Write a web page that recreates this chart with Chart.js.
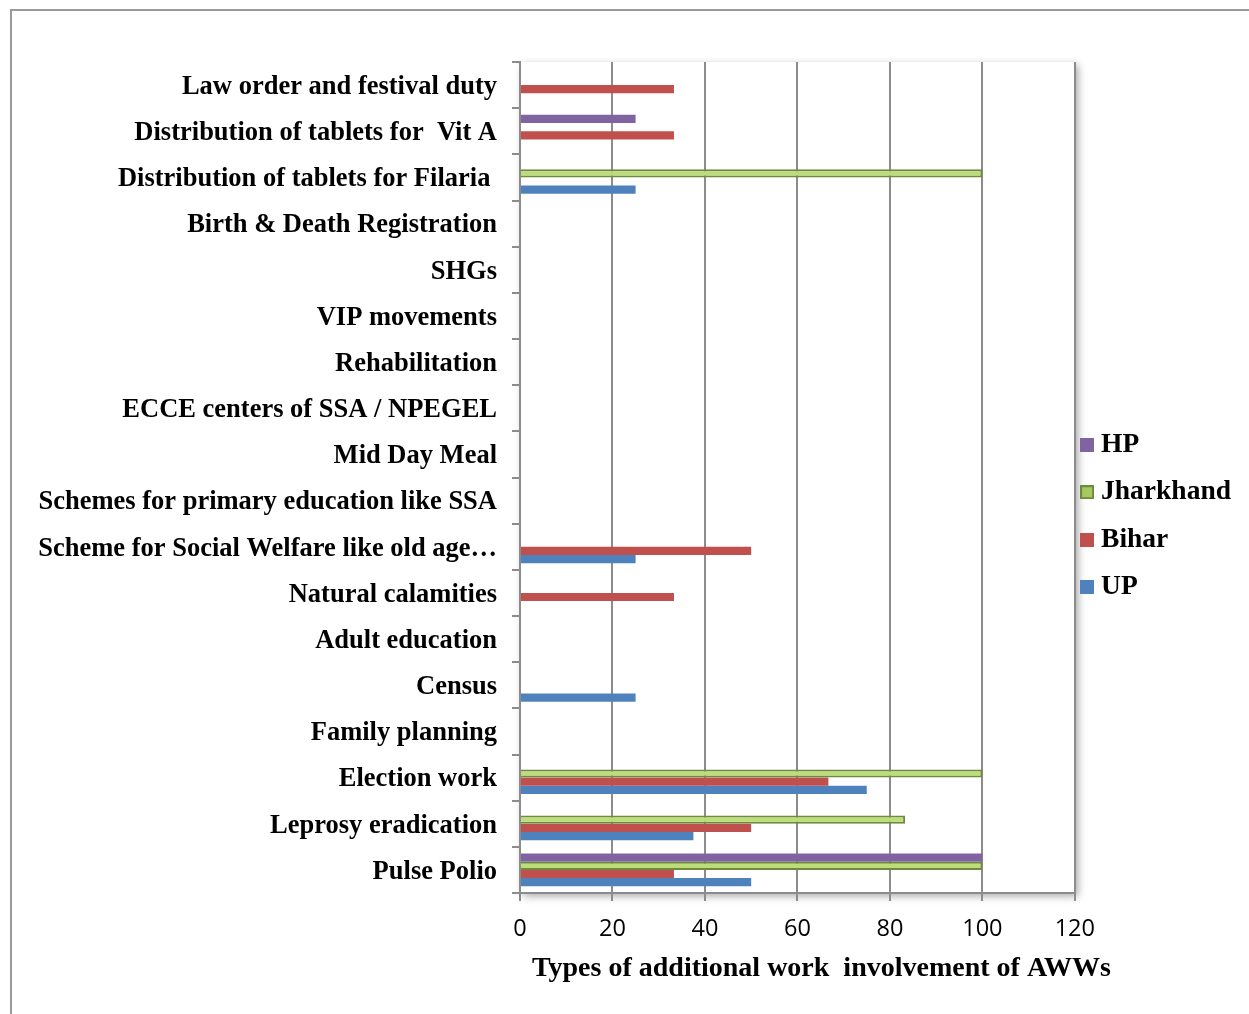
<!DOCTYPE html>
<html>
<head>
<meta charset="utf-8">
<script src="https://cdn.jsdelivr.net/npm/chart.js@4.4.0/dist/chart.umd.min.js"></script>
<style>
body{margin:0;background:#fff;overflow:hidden;}
#frame{position:absolute;left:10px;top:9px;width:1400px;height:1200px;border-top:2px solid #9a9a9a;border-left:2px solid #9a9a9a;}
#wrap{position:absolute;left:0;top:0;width:1249px;height:1014px;}
</style>
</head>
<body>
<div id="frame"></div>
<div id="wrap"><canvas id="myChart"></canvas></div>
<script>
// categories, top to bottom as shown
const categories = [
  "Law order and festival duty",
  "Distribution of tablets for  Vit A",
  "Distribution of tablets for Filaria ",
  "Birth & Death Registration",
  "SHGs",
  "VIP movements",
  "Rehabilitation",
  "ECCE centers of SSA / NPEGEL",
  "Mid Day Meal",
  "Schemes for primary education like SSA",
  "Scheme for Social Welfare like old age\u2026",
  "Natural calamities",
  "Adult education",
  "Census",
  "Family planning",
  "Election work",
  "Leprosy eradication",
  "Pulse Polio"
];
const hpData        = [0, 25, 0, 0, 0, 0, 0, 0, 0, 0, 0, 0, 0, 0, 0, 0, 0, 100];
const jharkhandData = [0, 0, 100, 0, 0, 0, 0, 0, 0, 0, 0, 0, 0, 0, 0, 100, 83.3, 100];
const biharData     = [33.3, 33.3, 0, 0, 0, 0, 0, 0, 0, 0, 50, 33.3, 0, 0, 0, 66.7, 50, 33.3];
const upData        = [0, 0, 25, 0, 0, 0, 0, 0, 0, 0, 25, 0, 0, 25, 0, 75, 37.5, 50];
const xTicks = [0, 20, 40, 60, 80, 100, 120];
const xTitle = "Types of additional work  involvement of AWWs";

const gridGray = "#8c8c8c";
const serif = "'Liberation Serif', 'Times New Roman', serif";

// small square used as legend marker
function legendBox(fill, stroke) {
  const c = document.createElement("canvas");
  c.width = 14; c.height = 14;
  const g = c.getContext("2d");
  g.fillStyle = fill;
  g.fillRect(0, 0, 14, 14);
  if (stroke) {
    g.strokeStyle = stroke;
    g.lineWidth = 2;
    g.strokeRect(1, 1, 12, 12);
  }
  return c;
}

const plotBox = {
  id: "plotBox",
  afterLayout(chart) {
    // nudge legend to sit like the original
    const lg = chart.legend;
    lg.left -= 8; lg.right -= 8;
    lg.top -= 22; lg.bottom -= 22;
  },
  beforeDraw(chart) {
    const {ctx, chartArea: a} = chart;
    ctx.save();
    ctx.shadowColor = "rgba(0,0,0,0.35)";
    ctx.shadowBlur = 8;
    ctx.shadowOffsetX = 3;
    ctx.shadowOffsetY = 3;
    ctx.fillStyle = "#fff";
    ctx.fillRect(a.left, a.top, a.width, a.height);
    ctx.restore();
  },
  afterDraw(chart) {
    // axis title is wider than the plot, so it is drawn here instead of the scale title
    const {ctx, chartArea: a} = chart;
    ctx.save();
    ctx.font = "bold 28px " + serif;
    ctx.fillStyle = "#000";
    ctx.textAlign = "center";
    ctx.textBaseline = "middle";
    ctx.fillText(xTitle, (a.left + a.right) / 2 + 24, a.bottom + 76);
    ctx.restore();
  }
};

const data = {
  labels: categories,
  datasets: [
    { label: "HP", data: hpData, backgroundColor: "#8064A2", pointStyle: legendBox("#8064A2") },
    { label: "Jharkhand", data: jharkhandData, backgroundColor: "#BCDD7A", borderColor: "#6E8B3D", borderWidth: 2,
      pointStyle: legendBox("#A6C861", "#6E8B3D") },
    { label: "Bihar", data: biharData, backgroundColor: "#C0504D", pointStyle: legendBox("#C0504D") },
    { label: "UP", data: upData, backgroundColor: "#4F81BD", pointStyle: legendBox("#4F81BD") }
  ]
};

const config = {
  type: "bar",
  data,
  options: {
    indexAxis: "y",
    responsive: true,
    maintainAspectRatio: false,
    animation: false,
    categoryPercentage: 0.71,
    barPercentage: 1,
    layout: { padding: { top: 62, left: 0, right: 0, bottom: 0 } },
    plugins: {
      tooltip: { enabled: false },
      legend: {
        position: "right",
        maxWidth: 176,
        labels: {
          usePointStyle: true,
          pointStyleWidth: 0.5,
          boxHeight: 13,
          padding: 20,
          color: "#000",
          font: { family: serif, size: 27.5, weight: "bold" }
        }
      }
    },
    scales: {
      x: {
        min: 0,
        max: 120,
        afterBuildTicks: s => { s.ticks = xTicks.map(v => ({ value: v })); },
        afterFit: s => { s.height = 121; },
        ticks: { color: "#000", padding: 14, font: { family: "'Open Sans', sans-serif", size: 23.5 } },
        grid: { color: gridGray, lineWidth: 2, tickLength: 8 },
        border: { color: gridGray, width: 2 }
      },
      y: {
        afterFit: s => { s.width = 520; },
        ticks: { color: "#000", padding: 15, labelOffset: 2, autoSkip: false,
          font: { family: serif, size: 26.5, weight: "bold" } },
        grid: { drawOnChartArea: false, color: gridGray, lineWidth: 2, tickLength: 8 },
        border: { color: gridGray, width: 2 }
      }
    }
  },
  plugins: [plotBox]
};

new Chart(document.getElementById("myChart").getContext("2d"), config);
</script>
</body>
</html>
